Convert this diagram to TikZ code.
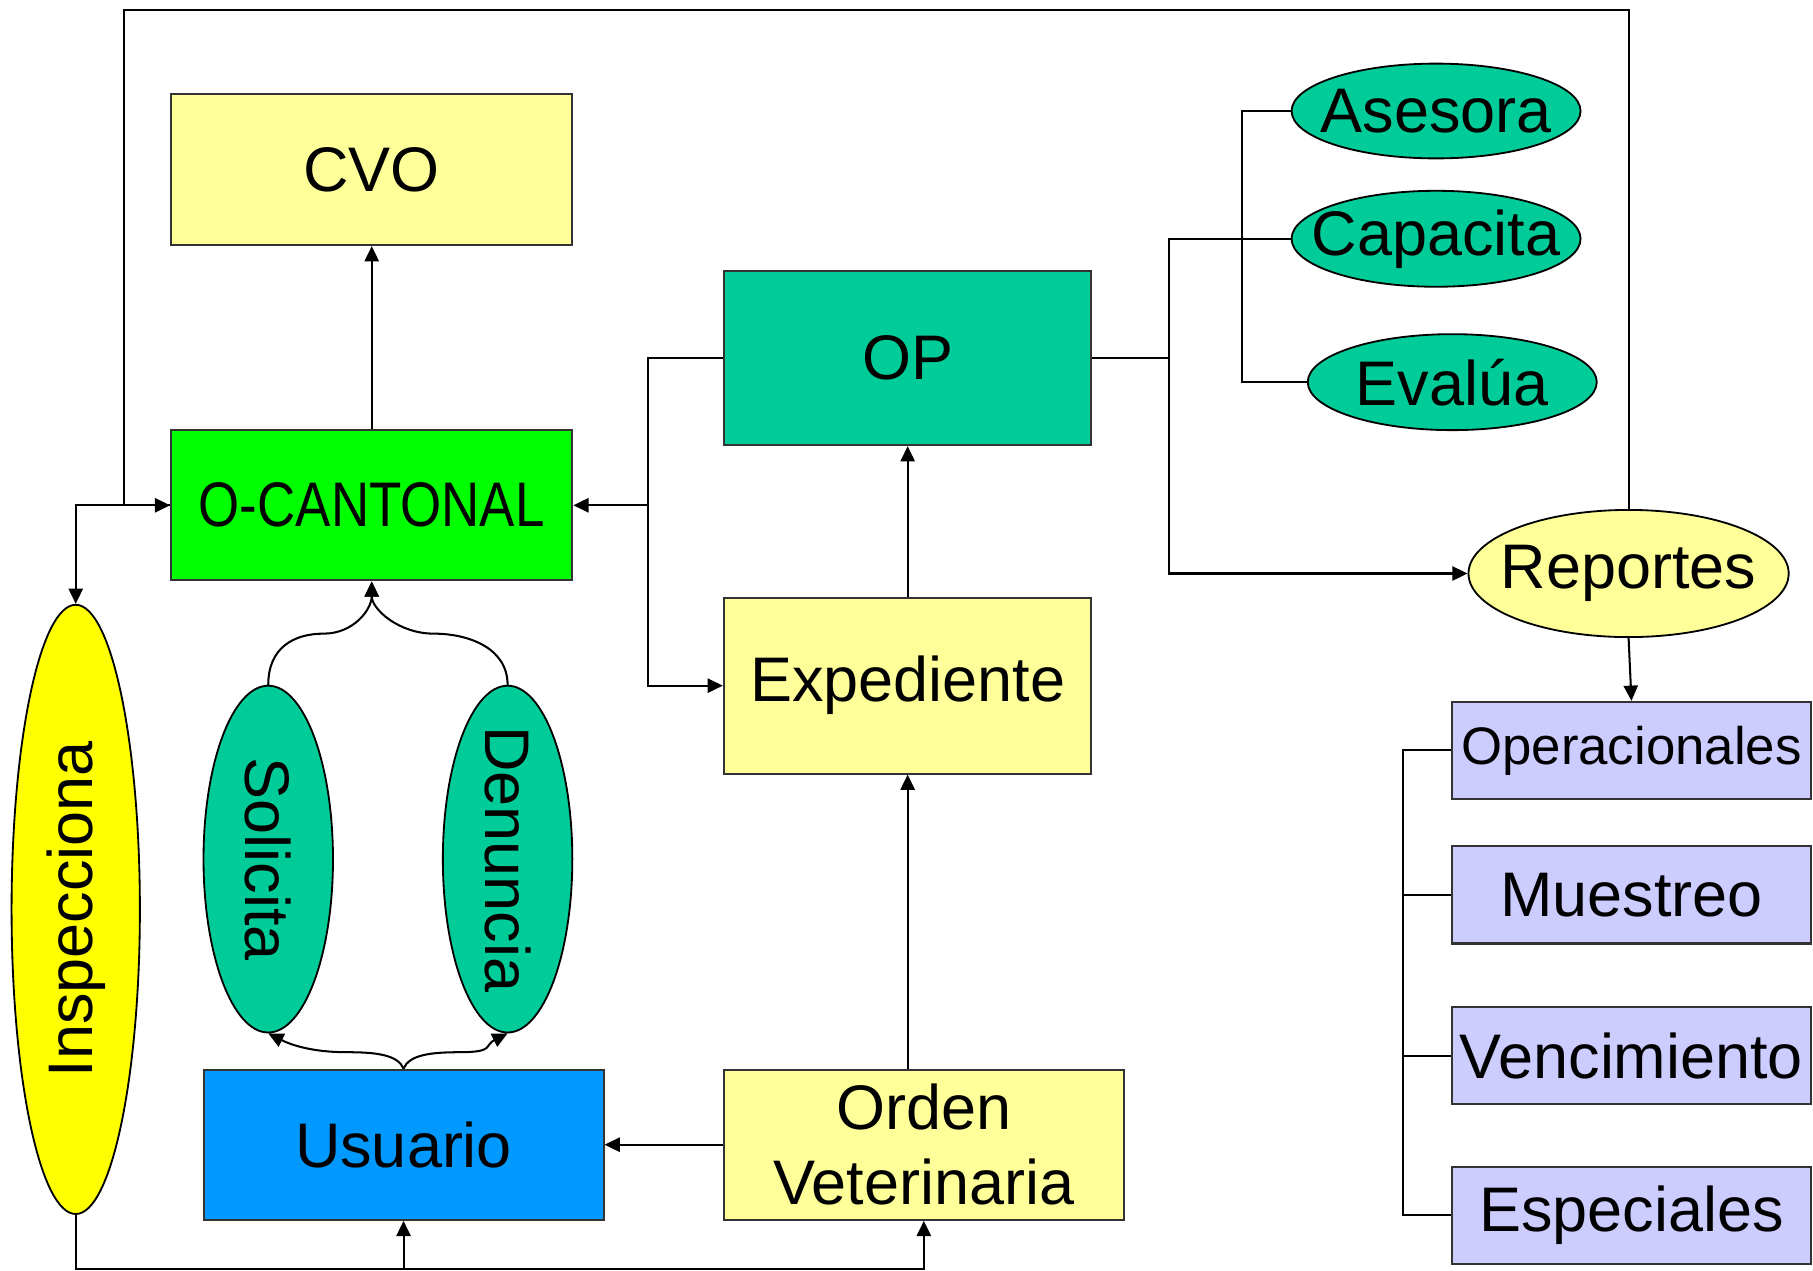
\documentclass[tikz,border=0pt]{standalone}
\usepackage{fontspec}
\setmainfont{Liberation Sans}
\newfontfamily\narrowfont{Liberation Sans}[FakeStretch=0.84]
\usetikzlibrary{shapes.geometric,arrows.meta}

\definecolor{paleyellow}{HTML}{FFFF99}
\definecolor{brightgreen}{HTML}{00FF00}
\definecolor{seagreen}{HTML}{00CC99}
\definecolor{skyblue}{HTML}{0099FF}
\definecolor{lemon}{HTML}{FFFF00}
\definecolor{lavender}{HTML}{CCCCFF}

\tikzset{
  box/.style={draw=black!80, line width=1pt, rectangle, inner sep=0pt, align=center,
    font=\fontsize{31}{37}\selectfont},
  oval/.style={draw=black, line width=0.9pt, ellipse, inner sep=0pt,
    font=\fontsize{31}{37}\selectfont},
  link/.style={line width=1pt},
  arr/.style={link, -{Triangle[length=7.5pt,width=7pt]}}
}

\begin{document}
\begin{tikzpicture}[x=0.02cm,y=-0.02cm]
\useasboundingbox (0,0) rectangle (1568,1099);

\node[box, fill=paleyellow, minimum width=6.94cm, minimum height=2.62cm] (CVO) at (321.5,146.5) {CVO};
\node[box, fill=brightgreen, minimum width=6.94cm, minimum height=2.6cm] (OC) at (321.5,437) {\narrowfont O-CANTONAL};
\node[box, fill=seagreen, minimum width=6.36cm, minimum height=3.02cm] (OP) at (785,309.5) {OP};
\node[box, fill=paleyellow, minimum width=6.36cm, minimum height=3.04cm] (EX) at (785,593) {Expediente};
\node[box, fill=skyblue, minimum width=6.92cm, minimum height=2.6cm] (US) at (349,990) {Usuario};
\node[box, fill=paleyellow, minimum width=6.92cm, minimum height=2.6cm] (OV) at (799,990) {Orden\\Veterinaria};

\node[oval, fill=lemon, minimum width=2.22cm, minimum height=10.54cm] (IN) at (65.5,786.5) {\rotatebox{90}{\makebox[0pt]{Inspecciona}}};
\node[oval, fill=seagreen, minimum width=2.24cm, minimum height=6cm] (SO) at (232,743) {\rotatebox{-90}{\makebox[0pt]{Solicita}}};
\node[oval, fill=seagreen, minimum width=2.24cm, minimum height=6cm] (DE) at (439,743) {\rotatebox{-90}{\makebox[0pt]{Denuncia}}};

\node[oval, fill=seagreen, minimum width=5cm, minimum height=1.64cm] (AS) at (1242,96) {\makebox[0pt]{Asesora}};
\node[oval, fill=seagreen, minimum width=5cm, minimum height=1.66cm] (CA) at (1242,206.5) {\makebox[0pt]{Capacita}};
\node[oval, fill=seagreen, minimum width=5cm, minimum height=1.66cm] (EV) at (1256,330.5) {\makebox[0pt]{Evalúa}};
\node[oval, fill=paleyellow, minimum width=5.54cm, minimum height=2.2cm] (RE) at (1408.5,496) {\makebox[0pt]{Reportes}};

\node[box, fill=lavender, minimum width=6.2cm, minimum height=1.68cm, font=\fontsize{26}{30}\selectfont] (R1) at (1411,649) {Operacionales};
\node[box, fill=lavender, minimum width=6.2cm, minimum height=1.68cm] (R2) at (1411,774) {Muestreo};
\node[box, fill=lavender, minimum width=6.2cm, minimum height=1.68cm] (R3) at (1411,913) {Vencimiento};
\node[box, fill=lavender, minimum width=6.2cm, minimum height=1.68cm] (R4) at (1411,1051) {Especiales};

% left part
\draw[arr] (RE.north) -- (RE.north |- 0,9) -- (107,9) |- (OC.west);
\draw[arr] (OC.west) -| (IN.north);
\draw[arr] (OC.north) -- (CVO.south);
\draw[arr] (OP.west) -- ++(-65,0) coordinate (JL) |- (OC.east);
\draw[arr] (JL |- OC.east) |- (EX.west);
\draw[arr] (EX.north) -- (OP.south);
\draw[arr] (OV.north -| EX.north) -- (EX.south);
\draw[arr] (OV.west) -- (US.east);
\draw[arr] (IN.south) -- ++(0,47) coordinate (BL) -| (OV.south);
\draw[arr] (US.south |- BL) -- (US.south);

% curved links
\draw[arr] (SO.north) .. controls +(0,-32) and +(-26,0) .. (280,548) .. controls +(26,0) and +(0,24) .. (OC.south);
\draw[arr] (DE.north) .. controls +(0,-32) and +(30,0) .. (375,548) .. controls +(-30,0) and +(0,24) .. (OC.south);
\draw[arr] (US.north) .. controls +(-5,-12) and +(25,0) .. (300,910) .. controls +(-30,0) and +(20,10) .. (SO.south);
\draw[arr] (US.north) .. controls +(5,-12) and +(-25,0) .. (398,910) .. controls +(30,0) and +(-20,10) .. (DE.south);

% right part
\draw[link] (OP.east) -- ++(66,0) coordinate (JR) |- (CA.west);
\draw[arr] (JR) |- (RE.west);
\draw[link] (AS.west) -- ++(-42,0) |- (EV.west);
\draw[arr] (RE.south) -- (R1.north);
\draw[link] (R1.west) -- ++(-42,0) coordinate (JB) |- (R4.west);
\draw[link] (R2.west) -- (R2.west -| JB);
\draw[link] (R3.west) -- (R3.west -| JB);
\end{tikzpicture}
\end{document}
